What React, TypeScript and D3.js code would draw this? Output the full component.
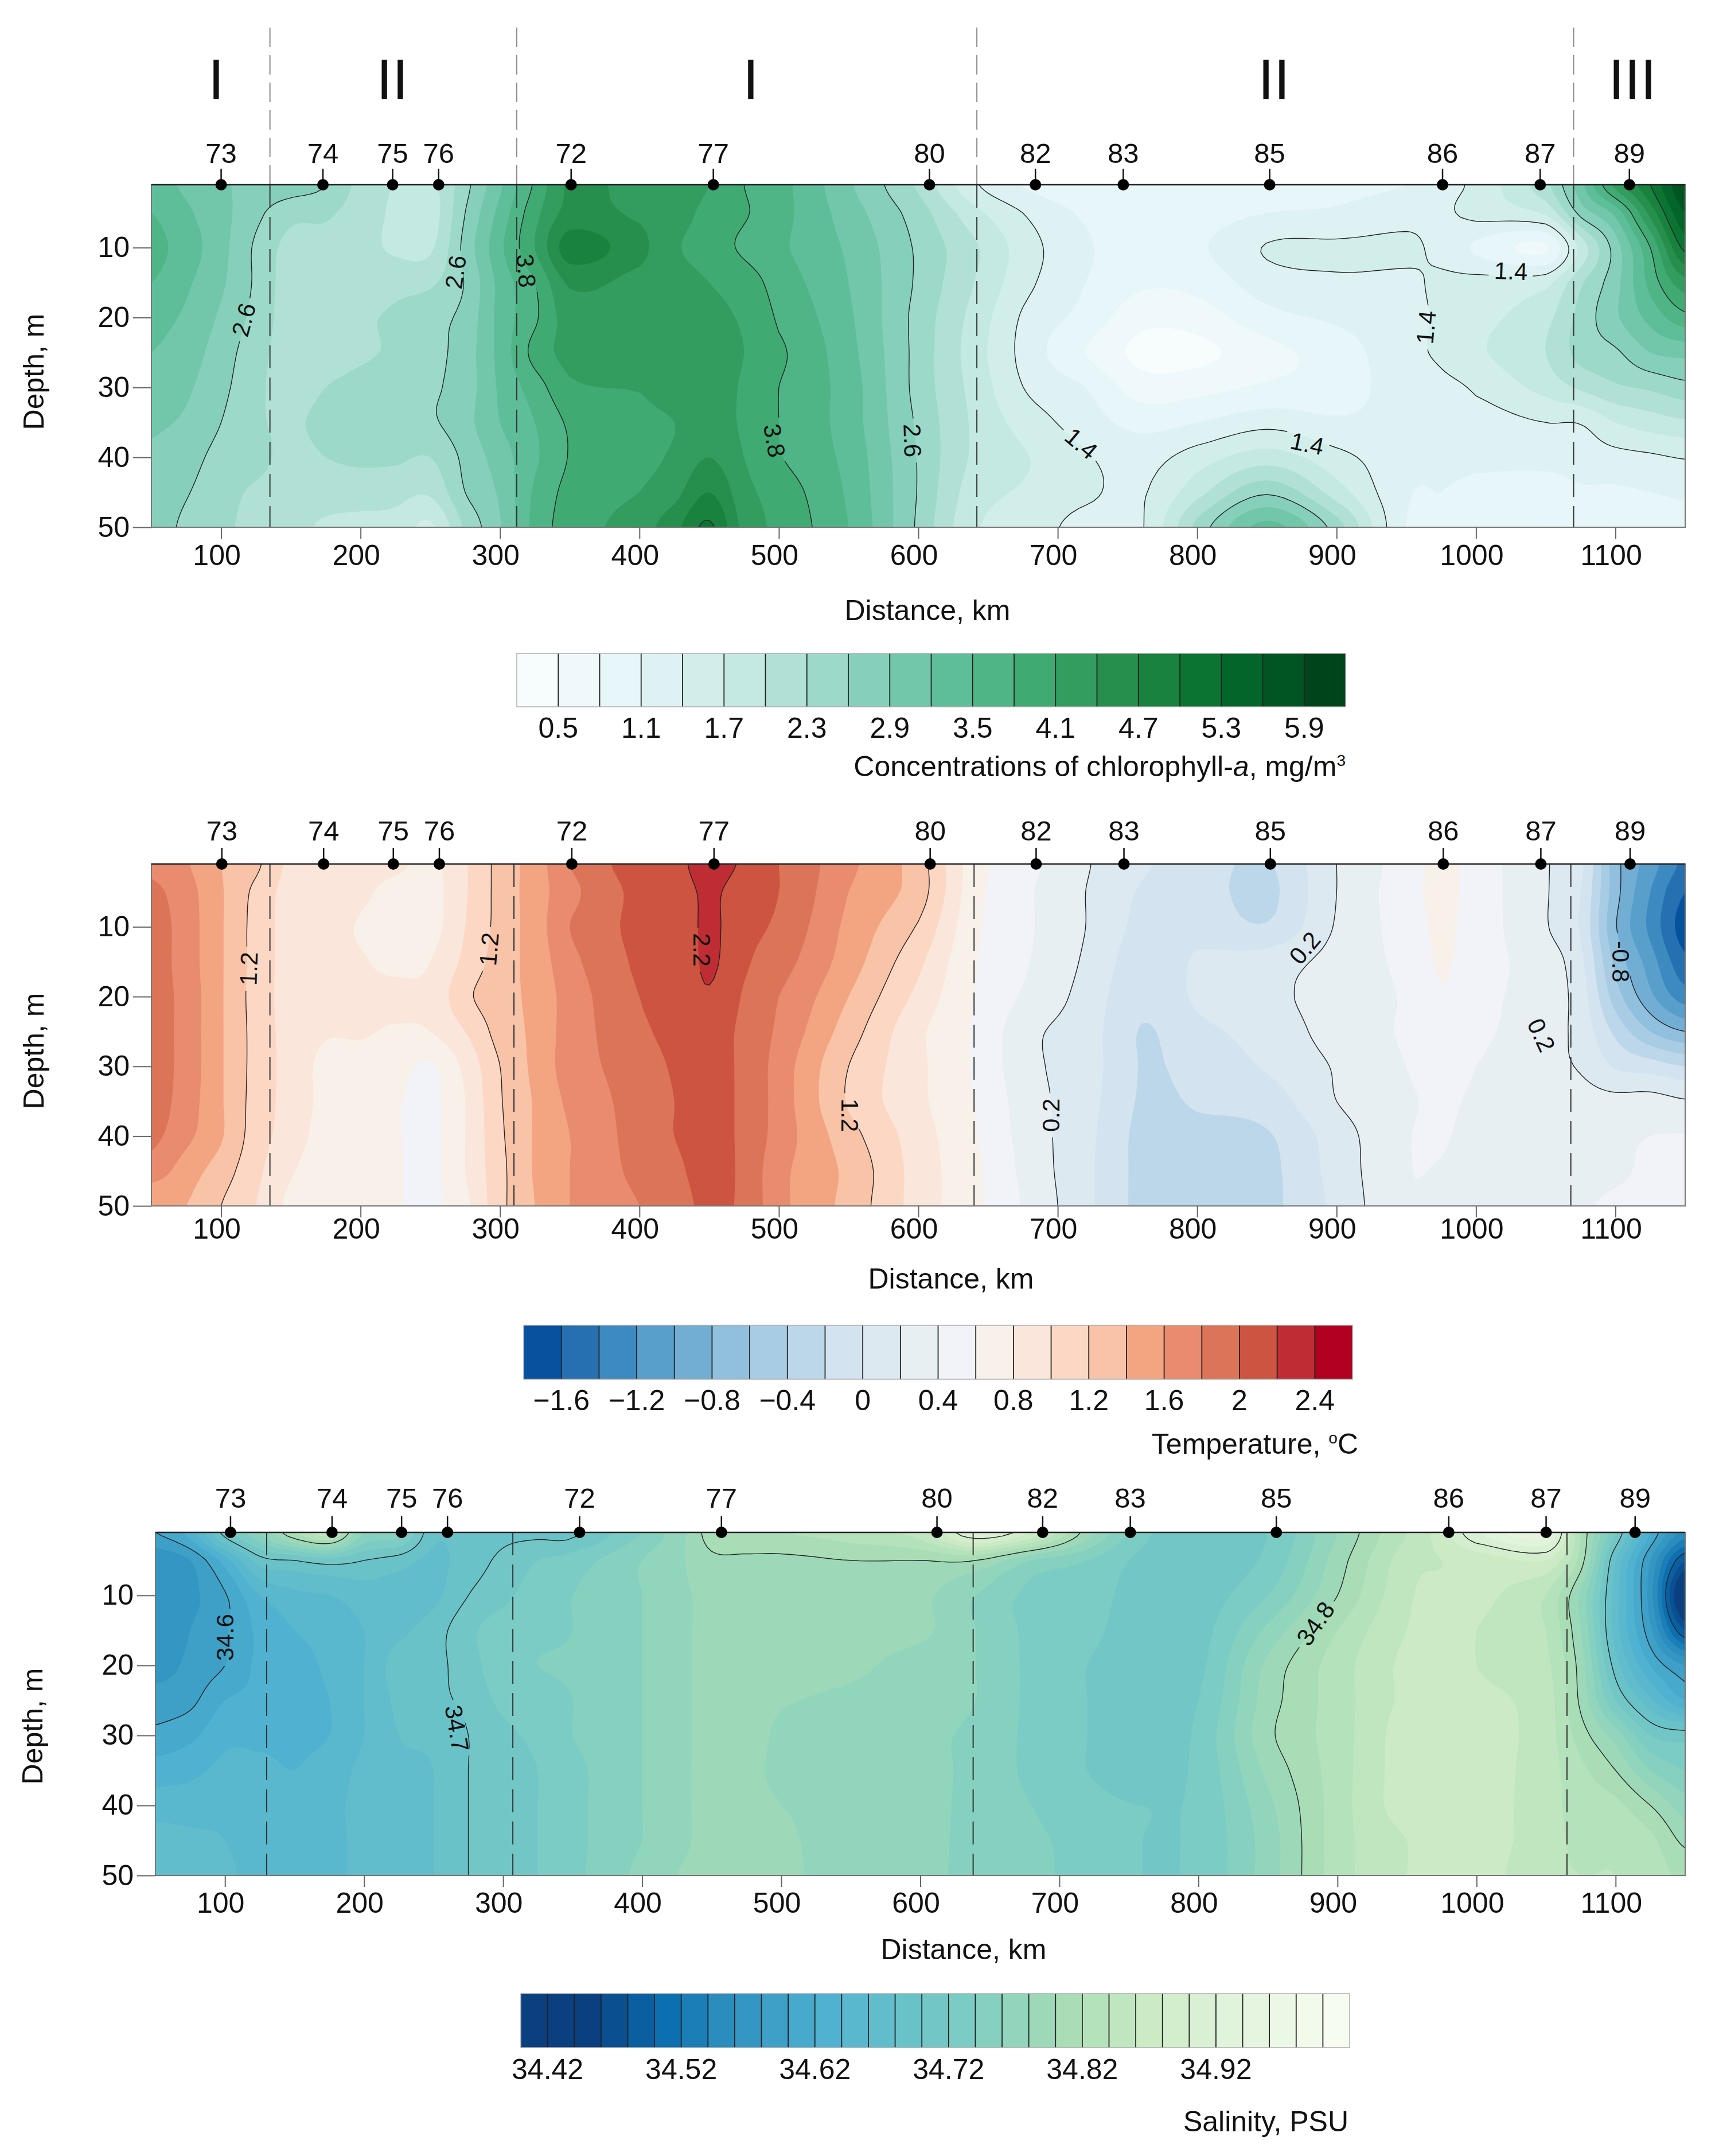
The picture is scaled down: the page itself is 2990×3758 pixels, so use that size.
import * as d3 from 'd3';
import * as React from 'react';

const FONT = '"Liberation Sans", Arial, sans-serif';

const depthLevels = [1, 5, 10, 15, 20, 25, 30, 35, 40, 45, 50];
const gridDistances = [
  50, 75, 100, 125, 150, 175, 200, 225, 250, 275, 300, 325, 350, 400, 425, 450, 475, 500, 550, 600, 640, 680, 720, 760,
  800, 850, 900, 950, 975, 1000, 1050, 1075, 1100, 1125, 1150,
];

const stationNames = ['73', '74', '75', '76', '72', '77', '80', '82', '83', '85', '86', '87', '89'];
const stationDistances = [100, 173, 223, 256, 351, 453, 608, 684, 747, 852, 976, 1046, 1110];
const distanceTicks = [100, 200, 300, 400, 500, 600, 700, 800, 900, 1000, 1100];
const depthTicks = [10, 20, 30, 40, 50];

// one profile per grid distance, top to bottom (depthLevels)
const chlorophyll = [
  [3.3, 3.5, 3.6, 3.5, 3.3, 3.2, 3.1, 2.95, 2.85, 2.75, 2.7],
  [3.15, 3.25, 3.35, 3.25, 3.15, 3.05, 2.95, 2.85, 2.72, 2.62, 2.55],
  [2.95, 3.0, 3.0, 2.95, 2.85, 2.75, 2.68, 2.6, 2.5, 2.42, 2.37],
  [2.8, 2.68, 2.55, 2.55, 2.5, 2.42, 2.38, 2.35, 2.4, 2.25, 2.2],
  [2.75, 2.4, 2.2, 2.15, 2.15, 2.15, 2.15, 2.25, 2.2, 2.15, 2.1],
  [2.6, 2.35, 2.2, 2.15, 2.15, 2.15, 2.3, 2.4, 2.3, 2.15, 1.95],
  [2.2, 2.15, 2.12, 2.15, 2.25, 2.25, 2.4, 2.45, 2.35, 2.15, 1.9],
  [1.98, 1.95, 1.95, 2.2, 2.35, 2.35, 2.45, 2.45, 2.35, 2.1, 1.9],
  [1.9, 1.85, 1.95, 2.25, 2.5, 2.5, 2.55, 2.55, 2.3, 2.05, 1.65],
  [2.5, 2.6, 2.7, 2.62, 2.7, 2.75, 2.75, 2.8, 2.68, 2.6, 2.35],
  [3.15, 3.3, 3.43, 3.3, 3.3, 3.3, 3.25, 3.2, 3.05, 2.95, 2.88],
  [3.85, 4.0, 4.1, 3.8, 3.75, 3.9, 3.65, 3.5, 3.45, 3.55, 3.6],
  [4.45, 4.5, 4.85, 4.45, 4.25, 4.2, 4.05, 3.85, 3.82, 3.9, 3.95],
  [4.3, 4.35, 4.5, 4.3, 4.25, 4.25, 4.12, 4.0, 4.0, 4.1, 4.25],
  [4.3, 4.25, 4.15, 4.25, 4.3, 4.3, 4.25, 4.1, 4.15, 4.3, 4.6],
  [4.1, 4.0, 3.95, 4.1, 4.2, 4.3, 4.3, 4.25, 4.4, 4.7, 5.05],
  [3.8, 3.83, 3.75, 3.95, 4.05, 4.1, 4.05, 4.05, 4.1, 4.2, 4.3],
  [3.6, 3.6, 3.55, 3.65, 3.75, 3.85, 3.8, 3.8, 3.82, 3.95, 4.0],
  [2.95, 3.05, 3.15, 3.2, 3.25, 3.3, 3.35, 3.35, 3.4, 3.45, 3.5],
  [2.25, 2.45, 2.55, 2.55, 2.5, 2.5, 2.5, 2.55, 2.58, 2.58, 2.55],
  [1.45, 1.8, 2.05, 2.0, 1.9, 1.85, 1.9, 1.95, 1.95, 1.85, 1.75],
  [1.05, 1.35, 1.5, 1.45, 1.3, 1.25, 1.35, 1.55, 1.7, 1.65, 1.55],
  [0.9, 1.05, 1.15, 1.1, 1.0, 0.8, 1.1, 1.25, 1.43, 1.45, 1.3],
  [0.85, 0.9, 0.9, 0.85, 0.6, 0.42, 0.65, 1.0, 1.28, 1.37, 1.37],
  [0.85, 0.95, 1.05, 0.9, 0.65, 0.42, 0.7, 1.1, 1.55, 1.9, 2.4],
  [0.85, 1.1, 1.42, 1.25, 1.0, 0.7, 0.85, 1.3, 1.85, 2.55, 3.3],
  [1.0, 1.15, 1.45, 1.35, 1.15, 0.95, 0.95, 1.15, 1.5, 1.85, 2.45],
  [1.1, 1.3, 1.45, 1.35, 1.3, 1.3, 1.25, 1.2, 1.2, 1.15, 1.1],
  [1.3, 1.35, 1.32, 1.45, 1.45, 1.45, 1.32, 1.2, 1.15, 1.1, 1.05],
  [1.5, 1.5, 1.05, 1.5, 1.6, 1.65, 1.45, 1.25, 1.15, 1.05, 1.0],
  [2.2, 1.75, 0.75, 1.6, 1.9, 2.0, 1.8, 1.4, 1.2, 0.95, 0.8],
  [3.1, 2.7, 1.8, 2.25, 2.4, 2.4, 2.05, 1.42, 1.25, 1.05, 0.85],
  [4.2, 3.3, 2.75, 2.8, 2.85, 2.55, 2.25, 1.7, 1.3, 1.05, 0.85],
  [5.0, 4.5, 3.8, 3.6, 3.3, 2.9, 2.35, 1.85, 1.35, 1.1, 0.9],
  [5.9, 5.6, 5.1, 4.3, 3.7, 3.0, 2.5, 1.95, 1.42, 1.15, 1.0],
];

const temperature = [
  [1.75, 1.85, 1.9, 1.9, 1.9, 1.9, 1.9, 1.9, 1.85, 1.7, 1.4],
  [1.62, 1.68, 1.7, 1.7, 1.72, 1.72, 1.72, 1.7, 1.65, 1.5, 1.4],
  [1.4, 1.42, 1.42, 1.42, 1.42, 1.42, 1.42, 1.42, 1.42, 1.3, 1.2],
  [1.24, 1.15, 1.13, 1.13, 1.12, 1.13, 1.13, 1.12, 1.1, 1.05, 1.0],
  [0.95, 0.92, 0.92, 0.92, 0.92, 0.92, 0.92, 0.92, 0.9, 0.82, 0.75],
  [0.92, 0.9, 0.88, 0.88, 0.88, 0.82, 0.75, 0.75, 0.72, 0.7, 0.68],
  [0.9, 0.85, 0.78, 0.82, 0.85, 0.82, 0.72, 0.7, 0.7, 0.68, 0.68],
  [0.85, 0.72, 0.68, 0.75, 0.85, 0.78, 0.68, 0.62, 0.62, 0.62, 0.62],
  [0.75, 0.72, 0.72, 0.8, 0.85, 0.8, 0.58, 0.55, 0.55, 0.55, 0.55],
  [0.98, 0.98, 1.0, 1.05, 1.15, 1.0, 0.85, 0.8, 0.8, 0.8, 0.75],
  [1.27, 1.27, 1.27, 1.3, 1.32, 1.28, 1.2, 1.18, 1.16, 1.14, 1.14],
  [1.5, 1.5, 1.5, 1.48, 1.46, 1.45, 1.45, 1.42, 1.42, 1.42, 1.4],
  [1.8, 1.75, 1.8, 1.75, 1.7, 1.7, 1.7, 1.65, 1.6, 1.6, 1.6],
  [2.1, 2.05, 2.05, 2.03, 2.0, 1.95, 1.9, 1.88, 1.88, 1.85, 1.8],
  [2.1, 2.05, 2.05, 2.05, 2.06, 2.05, 2.02, 2.0, 2.0, 1.95, 1.9],
  [2.35, 2.25, 2.24, 2.23, 2.18, 2.1, 2.08, 2.08, 2.08, 2.08, 2.05],
  [2.15, 2.05, 2.05, 2.03, 1.98, 1.95, 1.95, 1.95, 1.95, 1.95, 1.95],
  [2.0, 2.0, 1.95, 1.88, 1.8, 1.75, 1.7, 1.7, 1.7, 1.65, 1.65],
  [1.65, 1.6, 1.55, 1.5, 1.4, 1.3, 1.2, 1.18, 1.28, 1.35, 1.33],
  [1.3, 1.3, 1.18, 1.05, 0.95, 0.85, 0.85, 0.85, 0.9, 0.92, 0.92],
  [0.7, 0.68, 0.65, 0.62, 0.6, 0.58, 0.58, 0.6, 0.62, 0.65, 0.65],
  [0.45, 0.42, 0.42, 0.4, 0.35, 0.25, 0.25, 0.28, 0.3, 0.32, 0.35],
  [0.22, 0.2, 0.2, 0.17, 0.13, 0.1, 0.1, 0.08, 0.06, 0.05, 0.05],
  [0.03, -0.02, -0.05, -0.1, -0.15, -0.21, -0.21, -0.22, -0.25, -0.25, -0.25],
  [-0.1, -0.1, -0.05, 0.02, 0.03, -0.05, -0.12, -0.18, -0.24, -0.25, -0.25],
  [-0.22, -0.25, -0.18, 0.1, 0.15, 0.08, 0.02, -0.1, -0.22, -0.25, -0.25],
  [0.2, 0.2, 0.22, 0.27, 0.28, 0.28, 0.22, 0.2, 0.1, 0.08, 0.05],
  [0.48, 0.5, 0.48, 0.45, 0.42, 0.42, 0.4, 0.36, 0.38, 0.38, 0.38],
  [0.65, 0.65, 0.63, 0.62, 0.58, 0.5, 0.48, 0.44, 0.42, 0.38, 0.3],
  [0.5, 0.5, 0.5, 0.48, 0.46, 0.44, 0.4, 0.36, 0.33, 0.3, 0.28],
  [0.22, 0.22, 0.22, 0.3, 0.3, 0.28, 0.25, 0.3, 0.35, 0.36, 0.3],
  [0.05, 0.0, -0.02, 0.05, 0.1, 0.13, 0.18, 0.28, 0.33, 0.35, 0.38],
  [-0.72, -0.72, -0.78, -0.65, -0.5, -0.25, -0.02, 0.26, 0.36, 0.38, 0.42],
  [-1.1, -1.2, -1.25, -1.1, -0.95, -0.6, -0.1, 0.28, 0.4, 0.42, 0.42],
  [-1.45, -1.6, -1.7, -1.55, -1.3, -0.8, -0.2, 0.22, 0.41, 0.44, 0.46],
];

const salinity = [
  [34.6, 34.565, 34.565, 34.565, 34.57, 34.59, 34.605, 34.63, 34.65, 34.67, 34.675],
  [34.63, 34.58, 34.575, 34.58, 34.585, 34.595, 34.615, 34.635, 34.65, 34.665, 34.67],
  [34.71, 34.63, 34.598, 34.598, 34.6, 34.62, 34.635, 34.645, 34.655, 34.66, 34.665],
  [34.76, 34.69, 34.64, 34.625, 34.625, 34.625, 34.635, 34.645, 34.65, 34.65, 34.65],
  [34.82, 34.7, 34.655, 34.64, 34.63, 34.63, 34.635, 34.64, 34.645, 34.65, 34.65],
  [34.85, 34.71, 34.66, 34.65, 34.645, 34.64, 34.64, 34.65, 34.655, 34.655, 34.655],
  [34.76, 34.7, 34.67, 34.66, 34.66, 34.66, 34.66, 34.665, 34.665, 34.665, 34.665],
  [34.75, 34.69, 34.67, 34.675, 34.69, 34.685, 34.68, 34.675, 34.67, 34.67, 34.67],
  [34.685, 34.675, 34.675, 34.69, 34.695, 34.695, 34.685, 34.68, 34.68, 34.68, 34.68],
  [34.69, 34.69, 34.7, 34.715, 34.71, 34.705, 34.7, 34.7, 34.7, 34.7, 34.7],
  [34.695, 34.705, 34.715, 34.73, 34.735, 34.725, 34.715, 34.71, 34.71, 34.71, 34.71],
  [34.695, 34.72, 34.73, 34.735, 34.74, 34.73, 34.725, 34.72, 34.72, 34.72, 34.72],
  [34.695, 34.73, 34.74, 34.74, 34.745, 34.74, 34.74, 34.735, 34.735, 34.735, 34.735],
  [34.74, 34.76, 34.76, 34.76, 34.76, 34.76, 34.76, 34.76, 34.76, 34.76, 34.765],
  [34.77, 34.775, 34.775, 34.775, 34.775, 34.775, 34.775, 34.775, 34.775, 34.775, 34.78],
  [34.81, 34.795, 34.785, 34.785, 34.785, 34.785, 34.785, 34.785, 34.785, 34.785, 34.785],
  [34.82, 34.795, 34.79, 34.79, 34.79, 34.79, 34.79, 34.785, 34.785, 34.785, 34.785],
  [34.82, 34.795, 34.79, 34.79, 34.79, 34.782, 34.775, 34.775, 34.78, 34.783, 34.784],
  [34.83, 34.8, 34.79, 34.79, 34.785, 34.775, 34.77, 34.77, 34.77, 34.77, 34.77],
  [34.85, 34.8, 34.785, 34.785, 34.77, 34.77, 34.765, 34.765, 34.765, 34.765, 34.765],
  [34.92, 34.8, 34.76, 34.76, 34.76, 34.76, 34.755, 34.755, 34.755, 34.755, 34.755],
  [34.88, 34.76, 34.735, 34.735, 34.735, 34.735, 34.735, 34.735, 34.74, 34.745, 34.75],
  [34.79, 34.74, 34.73, 34.725, 34.72, 34.72, 34.72, 34.72, 34.725, 34.73, 34.725],
  [34.725, 34.715, 34.71, 34.71, 34.71, 34.71, 34.71, 34.715, 34.72, 34.72, 34.72],
  [34.715, 34.71, 34.71, 34.712, 34.715, 34.72, 34.725, 34.725, 34.725, 34.725, 34.725],
  [34.72, 34.725, 34.74, 34.765, 34.785, 34.79, 34.795, 34.785, 34.775, 34.77, 34.77],
  [34.78, 34.79, 34.8, 34.82, 34.83, 34.83, 34.83, 34.83, 34.83, 34.83, 34.83],
  [34.84, 34.85, 34.855, 34.86, 34.865, 34.865, 34.87, 34.87, 34.87, 34.86, 34.86],
  [34.87, 34.86, 34.865, 34.87, 34.875, 34.875, 34.875, 34.875, 34.875, 34.875, 34.875],
  [34.92, 34.865, 34.865, 34.86, 34.86, 34.865, 34.87, 34.87, 34.87, 34.87, 34.87],
  [34.95, 34.88, 34.84, 34.84, 34.845, 34.85, 34.85, 34.85, 34.85, 34.85, 34.845],
  [34.82, 34.81, 34.775, 34.78, 34.79, 34.795, 34.81, 34.825, 34.83, 34.835, 34.84],
  [34.72, 34.68, 34.67, 34.67, 34.69, 34.72, 34.77, 34.8, 34.825, 34.835, 34.84],
  [34.62, 34.58, 34.57, 34.585, 34.62, 34.665, 34.72, 34.76, 34.8, 34.825, 34.83],
  [34.55, 34.48, 34.42, 34.48, 34.58, 34.62, 34.71, 34.74, 34.77, 34.795, 34.815],
];

const chlorophyllLines = [1.4, 2.6, 3.8, 5.0];
const temperatureLines = [-0.8, 0.2, 1.2, 2.2];
const salinityLines = [34.5, 34.6, 34.7, 34.8, 34.9];

const chlorophyllBarTicks = [0.5, 1.1, 1.7, 2.3, 2.9, 3.5, 4.1, 4.7, 5.3, 5.9];
const temperatureBarTicks = [-1.6, -1.2, -0.8, -0.4, 0, 0.4, 0.8, 1.2, 1.6, 2, 2.4];
const salinityBarTicks = [34.42, 34.52, 34.62, 34.72, 34.82, 34.92];

const temperatureColors = [
  '#08519f', '#2670b2', '#3d8ac0', '#589fcb', '#72aed4', '#90c0de', '#a8cce4', '#bdd7ea', '#d3e4f0', '#dde9f1', '#e7eff3',
  '#f2f3f8', '#f8f1ea', '#fae6da', '#fcd8c4', '#f9c3a8', '#f3a481', '#e98b6e', '#dc7558', '#cc5440', '#bf2c34', '#b00020',
];

// GnBu stops, placed on the cells of the salinity bar
const salinityColor = d3
  .scaleLinear<string>()
  .domain([0, 2, 5, 7, 11, 16, 20, 23, 26, 30])
  .range(['#0a3f80', '#0a3f80', '#0b6fb0', '#2b8cbe', '#50b2d0', '#7bccc4', '#a8ddb5', '#ccebc5', '#e0f3db', '#f7fcf0']);

// [text, km, depth, rotation]
const chlorophyllLabels: [string, number, number, number][] = [
  ['2.6', 116, 20.3, -75],
  ['2.6', 268, 13.5, -82],
  ['3.8', 319, 13.3, 85],
  ['3.8', 497, 37.6, 80],
  ['2.6', 596, 37.6, 88],
  ['1.4', 717, 38, 40],
  ['1.4', 879, 38, 12],
  ['1.4', 1025, 13.3, 2],
  ['1.4', 964, 21.4, -85],
];
const temperatureLabels: [string, number, number, number][] = [
  ['1.2', 119.6, 16, -88],
  ['1.2', 292, 13.2, -85],
  ['2.2', 445, 13.3, 90],
  ['1.2', 551, 37, 90],
  ['0.2', 695, 37, -90],
  ['0.2', 877, 13, -50],
  ['0.2', 1047, 25.5, 65],
  ['-0.8', 1104, 15, 90],
];
const salinityLabels: [string, number, number, number][] = [
  ['34.6', 100, 16, -90],
  ['34.7', 267, 29, 80],
  ['34.8', 884, 14, -55],
];

const zoneLabels: [string, number][] = [
  ['I', 377],
  ['II', 684],
  ['I', 1309],
  ['II', 2221],
  ['III', 2846],
];

const panels = [
  {
    id: 'chl',
    grid: chlorophyll,
    lines: chlorophyllLines,
    labels: chlorophyllLabels,
    min: 0.2,
    step: 0.3,
    cells: 20,
    color: (i: number) => d3.interpolateBuGn(i / 19),
    plot: { left: 264, right: 2938, top: 322, bottom: 919 },
    shift: 0,
    dashes: [135, 312, 642, 1070],
    dashTop: 48,
    stationBase: 284,
    xLabelY: 985,
    xTitle: [1617, 1081],
    yTitle: [60, 648],
    bar: { left: 901, right: 2346, top: 1139, bottom: 1232, labelY: 1286, ticks: chlorophyllBarTicks },
    titleY: 1353,
    titleRight: 2346,
  },
  {
    id: 'temp',
    grid: temperature,
    lines: temperatureLines,
    labels: temperatureLabels,
    min: -1.8,
    step: 0.2,
    cells: 22,
    color: (i: number) => temperatureColors[i],
    plot: { left: 264, right: 2938, top: 1506, bottom: 2102 },
    shift: 0.5,
    dashes: [135, 310, 640, 1068],
    dashTop: 1506,
    stationBase: 1465,
    xLabelY: 2159,
    xTitle: [1658, 2246],
    yTitle: [60, 1832],
    bar: { left: 913, right: 2358, top: 2310, bottom: 2404, labelY: 2458, ticks: temperatureBarTicks },
    titleY: 2534,
    titleRight: 2368,
  },
  {
    id: 'sal',
    grid: salinity,
    lines: salinityLines,
    labels: salinityLabels,
    min: 34.4,
    step: 0.02,
    cells: 31,
    color: (i: number) => salinityColor(i),
    plot: { left: 271, right: 2938, top: 2671, bottom: 3269 },
    shift: 4,
    dashes: [130, 307, 638, 1065],
    dashTop: 2671,
    stationBase: 2628,
    xLabelY: 3334,
    xTitle: [1680, 3415],
    yTitle: [58, 3009],
    bar: { left: 908, right: 2353, top: 3475, bottom: 3569, labelY: 3624, ticks: salinityBarTicks },
    titleY: 3715,
    titleRight: 2351,
  },
];

const catmull = (a: number, b: number, c: number, d: number, t: number) =>
  0.5 * (2 * b + (c - a) * t + (2 * a - 5 * b + 4 * c - d) * t * t + (3 * b - a - 3 * c + d) * t * t * t);

// resample one line of values so the contour edges come out round
const refineLine = (v: number[], k: number) => {
  const out: number[] = [];
  for (let i = 0; i < v.length - 1; i++) {
    for (let j = 0; j < k; j++) {
      out.push(catmull(v[Math.max(i - 1, 0)], v[i], v[i + 1], v[Math.min(i + 2, v.length - 1)], j / k));
    }
  }
  out.push(v[v.length - 1]);
  return out;
};

const refineGrid = (grid: number[][], k: number) => {
  const cols = grid.map((c) => refineLine(c, k));
  const h = cols[0].length;
  const rows = d3.range(h).map((r) => refineLine(cols.map((c) => c[r]), k));
  const w = rows[0].length;
  const flat = new Array(w * h);
  rows.forEach((row, r) => row.forEach((v, c) => (flat[r * w + c] = v)));
  return { flat, w, h };
};

const K = 8;

const drawPanel = (svg: any, p: (typeof panels)[number]) => {
  const { left, right, top, bottom } = p.plot;
  const x = d3.scaleLinear().domain([50, 1150]).range([left, right]);
  const y = d3.scaleLinear().domain([1, 50]).range([top, bottom]);

  const nodeX = d3.scaleLinear().domain(d3.range(gridDistances.length)).range(gridDistances);
  const nodeY = d3.scaleLinear().domain(d3.range(depthLevels.length)).range(depthLevels);
  const path = d3.geoPath(
    d3.geoTransform({
      point(cx: number, cy: number) {
        this.stream.point(x(nodeX((cx - 0.5) / K)), y(nodeY((cy - 0.5) / K)));
      },
    })
  );

  const { flat, w, h } = refineGrid(p.grid, K);
  const contours = d3.contours().size([w, h]);

  const defs = svg.append('defs');
  defs
    .append('clipPath')
    .attr('id', `clip-${p.id}`)
    .append('rect')
    .attr('x', left)
    .attr('y', top)
    .attr('width', right - left)
    .attr('height', bottom - top);

  const mask = defs
    .append('mask')
    .attr('id', `mask-${p.id}`)
    .attr('maskUnits', 'userSpaceOnUse')
    .attr('x', 0)
    .attr('y', 0)
    .attr('width', 2990)
    .attr('height', 3758);
  mask.append('rect').attr('width', 2990).attr('height', 3758).attr('fill', '#fff');
  p.labels.forEach(([t, km, d, rot]) => {
    const bw = t.length * 23 + 8;
    mask
      .append('rect')
      .attr('x', -bw / 2)
      .attr('y', -15)
      .attr('width', bw)
      .attr('height', 30)
      .attr('fill', '#000')
      .attr('transform', `translate(${x(km)},${y(d)}) rotate(${rot})`);
  });

  const map = svg.append('g').attr('clip-path', `url(#clip-${p.id})`);
  map
    .append('rect')
    .attr('x', left)
    .attr('y', top)
    .attr('width', right - left)
    .attr('height', bottom - top)
    .attr('fill', p.color(0));

  d3.range(1, p.cells).forEach((i) => {
    map
      .append('path')
      .attr('d', path(contours.contour(flat, p.min + i * p.step)))
      .attr('fill', p.color(i));
  });

  const lineGroup = map.append('g').attr('mask', `url(#mask-${p.id})`);
  p.lines.forEach((v) => {
    lineGroup
      .append('path')
      .attr('d', path(contours.contour(flat, v)))
      .attr('fill', 'none')
      .attr('stroke', '#222')
      .attr('stroke-width', 1.4);
  });

  // zone separators
  p.dashes.forEach((km) => {
    if (p.dashTop < top) {
      svg
        .append('line')
        .attr('x1', x(km))
        .attr('x2', x(km))
        .attr('y1', p.dashTop)
        .attr('y2', top)
        .attr('stroke', '#8a8a8a')
        .attr('stroke-width', 2)
        .attr('stroke-dasharray', '34 14');
    }
    svg
      .append('line')
      .attr('x1', x(km))
      .attr('x2', x(km))
      .attr('y1', top)
      .attr('y2', bottom)
      .attr('stroke', '#333')
      .attr('stroke-width', 2)
      .attr('stroke-dasharray', '40 16');
  });

  p.labels.forEach(([t, km, d, rot]) => {
    svg
      .append('text')
      .attr('transform', `translate(${x(km)},${y(d)}) rotate(${rot})`)
      .attr('text-anchor', 'middle')
      .attr('dy', '0.36em')
      .attr('font-family', FONT)
      .attr('font-size', 42)
      .attr('fill', '#111')
      .text(t);
  });

  // frame
  svg
    .append('rect')
    .attr('x', left)
    .attr('y', top)
    .attr('width', right - left)
    .attr('height', bottom - top)
    .attr('fill', 'none')
    .attr('stroke', '#777')
    .attr('stroke-width', 2);
  svg
    .append('line')
    .attr('x1', left)
    .attr('x2', right)
    .attr('y1', top)
    .attr('y2', top)
    .attr('stroke', '#222')
    .attr('stroke-width', 2.5);

  // axes
  const xAxis = svg
    .append('g')
    .attr('transform', `translate(0,${bottom})`)
    .call(d3.axisBottom(x).tickValues(distanceTicks).tickSize(20).tickFormat(d3.format('d')));
  const yAxis = svg
    .append('g')
    .attr('transform', `translate(${left},0)`)
    .call(d3.axisLeft(y).tickValues(depthTicks).tickSize(32).tickPadding(6).tickFormat(d3.format('d')));
  [xAxis, yAxis].forEach((a) => {
    a.select('.domain').remove();
    a.selectAll('line').attr('stroke', '#666').attr('stroke-width', 2);
    a.selectAll('text').attr('font-family', FONT).attr('font-size', 50).attr('fill', '#111');
  });
  xAxis
    .selectAll('text')
    .attr('y', p.xLabelY - bottom)
    .attr('dy', 0)
    .attr('dx', -8);

  svg
    .append('text')
    .attr('x', p.xTitle[0])
    .attr('y', p.xTitle[1])
    .attr('text-anchor', 'middle')
    .attr('font-family', FONT)
    .attr('font-size', 50)
    .attr('fill', '#111')
    .text('Distance, km');
  svg
    .append('text')
    .attr('transform', `translate(${p.yTitle[0] + 16},${p.yTitle[1]}) rotate(-90)`)
    .attr('text-anchor', 'middle')
    .attr('font-family', FONT)
    .attr('font-size', 50)
    .attr('fill', '#111')
    .text('Depth, m');

  // stations
  const st = svg
    .append('g')
    .selectAll('g')
    .data(stationNames)
    .enter()
    .append('g')
    .attr('transform', (_: string, i: number) => `translate(${x(stationDistances[i] + p.shift)},${top})`);
  st.append('line').attr('y1', -28).attr('y2', 0).attr('stroke', '#111').attr('stroke-width', 2.5);
  st.append('circle').attr('r', 10).attr('fill', '#000');
  st.append('text')
    .attr('y', p.stationBase - top)
    .attr('text-anchor', 'middle')
    .attr('font-family', FONT)
    .attr('font-size', 49)
    .attr('fill', '#111')
    .text((d: string) => d);

  // colour bar
  const b = p.bar;
  const barX = d3
    .scaleLinear()
    .domain([p.min, p.min + p.cells * p.step])
    .range([b.left, b.right]);
  const bar = svg.append('g');
  d3.range(p.cells).forEach((i) => {
    bar
      .append('rect')
      .attr('x', barX(p.min + i * p.step))
      .attr('y', b.top)
      .attr('width', barX(p.min + (i + 1) * p.step) - barX(p.min + i * p.step))
      .attr('height', b.bottom - b.top)
      .attr('fill', p.color(i));
    if (i > 0) {
      bar
        .append('line')
        .attr('x1', barX(p.min + i * p.step))
        .attr('x2', barX(p.min + i * p.step))
        .attr('y1', b.top)
        .attr('y2', b.bottom)
        .attr('stroke', '#222')
        .attr('stroke-width', 1.8);
    }
  });
  bar
    .append('rect')
    .attr('x', b.left)
    .attr('y', b.top)
    .attr('width', b.right - b.left)
    .attr('height', b.bottom - b.top)
    .attr('fill', 'none')
    .attr('stroke', '#aaa')
    .attr('stroke-width', 1.4);
  b.ticks.forEach((v) => {
    bar
      .append('text')
      .attr('x', barX(v))
      .attr('y', b.labelY)
      .attr('text-anchor', 'middle')
      .attr('font-family', FONT)
      .attr('font-size', 50)
      .attr('fill', '#111')
      .text(String(v).replace('-', '\u2212'));
  });
};

const App = () => {
  const ref = React.useRef<SVGSVGElement | null>(null);

  React.useEffect(() => {
    if (!ref.current) {
      return;
    }
    const svg = d3.select(ref.current);
    svg.selectAll('*').remove();
    svg.append('rect').attr('width', 2990).attr('height', 3758).attr('fill', '#fff');

    panels.forEach((p) => drawPanel(svg, p));

    zoneLabels.forEach(([t, cx]) => {
      svg
        .append('text')
        .attr('x', cx)
        .attr('y', 173)
        .attr('text-anchor', 'middle')
        .attr('font-family', FONT)
        .attr('font-size', 100)
        .attr('fill', '#111')
        .text(t);
    });

    const title = (right: number, yPos: number) =>
      svg
        .append('text')
        .attr('x', right)
        .attr('y', yPos)
        .attr('text-anchor', 'end')
        .attr('font-family', FONT)
        .attr('font-size', 50)
        .attr('fill', '#111');

    const chlTitle = title(panels[0].titleRight, panels[0].titleY);
    chlTitle.append('tspan').text('Concentrations of chlorophyll-');
    chlTitle.append('tspan').attr('font-style', 'italic').text('a');
    chlTitle.append('tspan').text(', mg/m');
    chlTitle.append('tspan').attr('font-size', 28).attr('dy', -18).text('3');

    const tempTitle = title(panels[1].titleRight, panels[1].titleY);
    tempTitle.append('tspan').text('Temperature, ');
    tempTitle.append('tspan').attr('font-size', 28).attr('dy', -18).text('o');
    tempTitle.append('tspan').attr('dy', 18).text('C');

    title(panels[2].titleRight, panels[2].titleY).text('Salinity, PSU');
  }, []);

  return <svg ref={ref} width={2990} height={3758} style={{ position: 'absolute', left: 0, top: 0, display: 'block' }} />;
};

export default App;
